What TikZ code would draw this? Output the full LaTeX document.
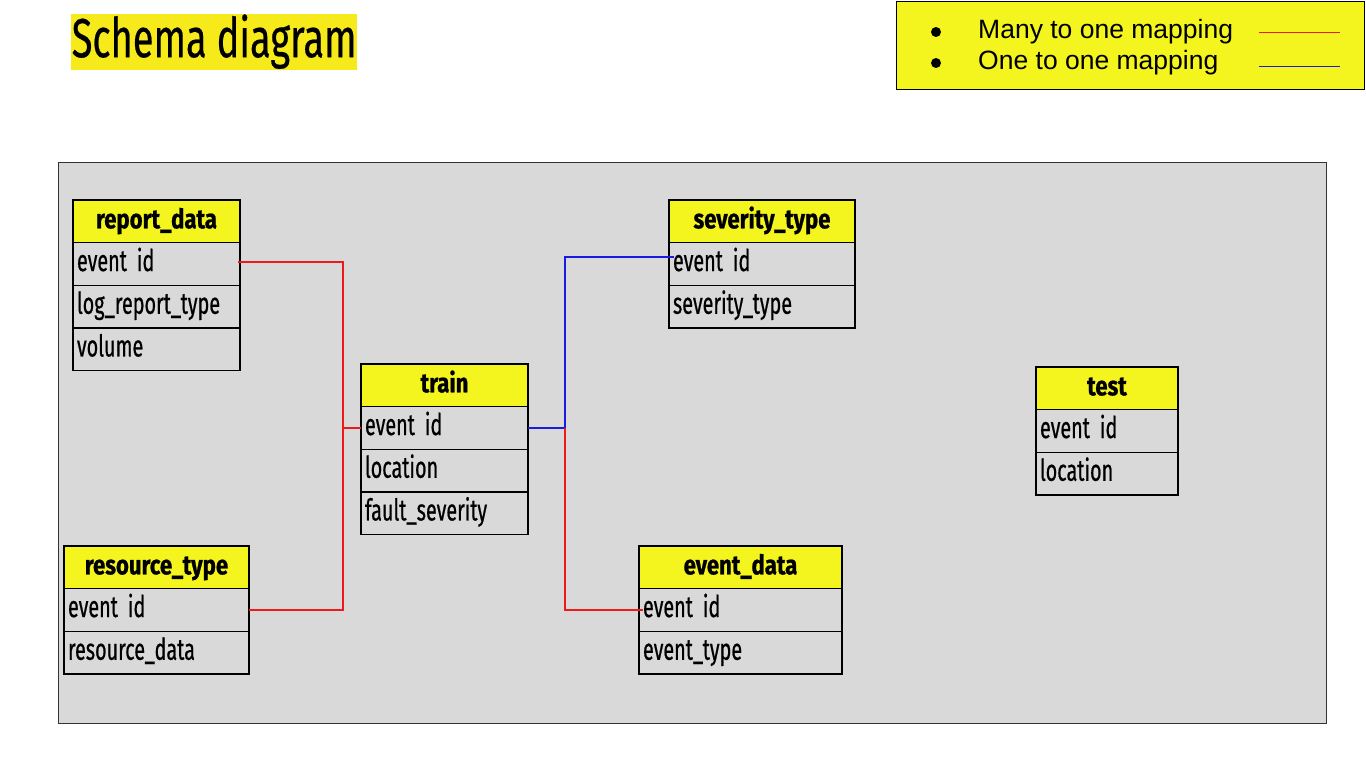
\documentclass[tikz,border=0pt]{standalone}
\usepackage{fontspec}
\newfontfamily\condr[FakeStretch=0.66,FakeBold=0.6]{Fira Sans}
\newfontfamily\condh[FakeStretch=0.82,FakeBold=0.8]{Fira Sans}
\newfontfamily\condt[FakeStretch=0.69,FakeBold=0.4]{Fira Sans}
\newfontfamily\arialf{Liberation Sans}
\definecolor{hy}{HTML}{F4F41E}
\definecolor{ty}{HTML}{F7EA1A}
\definecolor{panel}{HTML}{D9D9D9}
\definecolor{mred}{HTML}{F01818}
\definecolor{oblue}{HTML}{1A1AE0}
\begin{document}
\begin{tikzpicture}[x=1pt,y=-1pt,
  hdr/.style={draw=black, line width=1.3pt, fill=hy, minimum height=42.7pt, inner sep=0pt, outer sep=0pt, anchor=north west, text height=21pt, text depth=7pt, font=\condh\bfseries\fontsize{27}{27}\selectfont},
  row/.style={draw=black, line width=1.3pt, minimum height=42.7pt, inner xsep=4pt, inner ysep=0pt, outer sep=0pt, anchor=north west, text height=21pt, text depth=7pt, font=\condr\fontsize{30}{30}\selectfont, align=left},
  redline/.style={draw=mred, line width=1.3pt},
  blueline/.style={draw=oblue, line width=1.3pt},
  legtext/.style={anchor=west, inner sep=0pt, font=\arialf\fontsize{26.5}{26.5}\selectfont},
  dot/.style={circle, fill=black, inner sep=0pt, minimum size=10pt}]
\useasboundingbox (0,0) rectangle (1366,768);
\fill[white] (0,0) rectangle (1366,768);
% title
\node[fill=ty, anchor=north west, minimum width=286pt, minimum height=56pt, inner sep=0pt, text height=38pt, text depth=8pt, font=\condt\fontsize{55}{55}\selectfont] (title) at (71,14) {Schema diagram};
% legend
\node[draw=black, line width=1.3pt, fill=hy, anchor=north west, minimum width=468pt, minimum height=88pt, inner sep=0pt] (legend) at (896,1) {};
\node[dot] (b1) at (936,32) {};
\node[dot] (b2) at (936,63) {};
\node[legtext] (l1) at (978,32) {Many to one mapping};
\node[legtext] (l2) at (978,63) {One to one mapping};
\coordinate (r1) at (1259,33); \coordinate (r2) at (1340,33);
\coordinate (u1) at (1259,67); \coordinate (u2) at (1340,67);
\draw[redline, line width=1pt] (r1) -- (r2);
\draw[blueline, line width=1pt] (u1) -- (u2);
% panel
\node[draw=black!80, line width=1pt, fill=panel, anchor=north west, minimum width=1268pt, minimum height=561pt, inner sep=0pt] (panel) at (58,162) {};
% report_data
\node[hdr, minimum width=167pt] (rd0) at (73,200) {report\_data};
\node[row, text width=159pt] (rd1) at (rd0.south west) {event id};
\node[row, text width=159pt] (rd2) at (rd1.south west) {log\_report\_type};
\node[row, text width=159pt] (rd3) at (rd2.south west) {volume};
% train
\node[hdr, minimum width=167pt] (tr0) at (361,364) {train};
\node[row, text width=159pt] (tr1) at (tr0.south west) {event id};
\node[row, text width=159pt] (tr2) at (tr1.south west) {location};
\node[row, text width=159pt] (tr3) at (tr2.south west) {fault\_severity};
% severity_type
\node[hdr, minimum width=186pt] (sv0) at (669,200) {severity\_type};
\node[row, text width=178pt] (sv1) at (sv0.south west) {event id};
\node[row, text width=178pt] (sv2) at (sv1.south west) {severity\_type};
% test
\node[hdr, minimum width=142pt] (te0) at (1036,367) {test};
\node[row, text width=134pt] (te1) at (te0.south west) {event id};
\node[row, text width=134pt] (te2) at (te1.south west) {location};
% resource_type
\node[hdr, minimum width=185pt] (rs0) at (64,546) {resource\_type};
\node[row, text width=177pt] (rs1) at (rs0.south west) {event id};
\node[row, text width=177pt] (rs2) at (rs1.south west) {resource\_data};
% event_data
\node[hdr, minimum width=203pt] (ev0) at (639,546) {event\_data};
\node[row, text width=195pt] (ev1) at (ev0.south west) {event id};
\node[row, text width=195pt] (ev2) at (ev1.south west) {event\_type};
% connectors
\coordinate (jx) at (343,430);
\coordinate (jy) at (565,428);
\coordinate (svp) at ([xshift=5pt,yshift=7pt]sv1.west);
\coordinate (rdp) at ([xshift=-2pt,yshift=2pt]rd1.east);
\coordinate (evp) at ([xshift=4pt]ev1.west);
\draw[redline] (rdp) -| (jx) |- (rs1.east);
\draw[redline] (jx |- tr1.west) -- (tr1.west);
\draw[blueline] (tr1.east) -| (jy |- svp) -- (svp);
\draw[redline] (tr1.east -| jy) |- (evp);
\end{tikzpicture}
\end{document}
